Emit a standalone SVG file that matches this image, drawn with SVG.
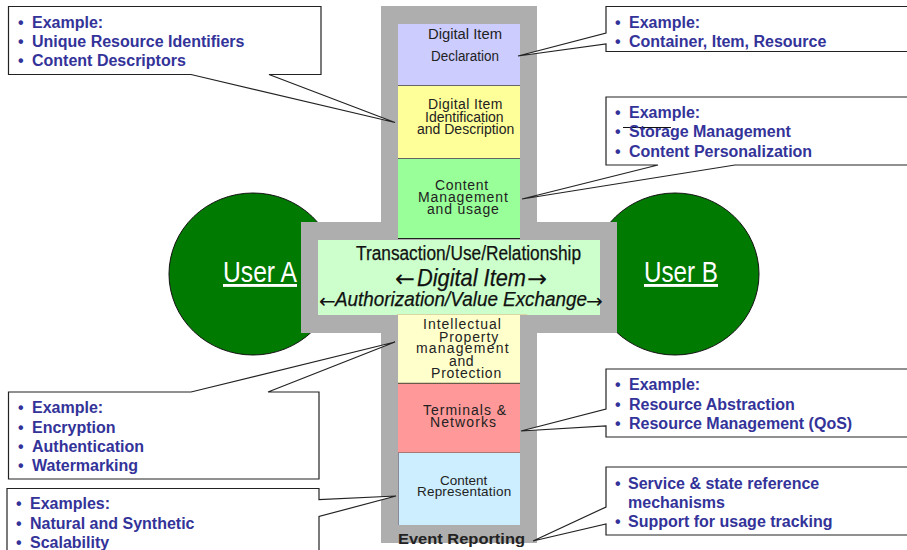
<svg xmlns="http://www.w3.org/2000/svg" width="907" height="550" viewBox="0 0 907 550">
<style>
text{font-family:"Liberation Sans",Arial,sans-serif}
.c{fill:#fff;stroke:#222;stroke-width:1.2}
.b{font-size:16px;font-weight:bold;fill:#333399}
.l{font-size:14px;fill:#222}
.u{font-size:29px;fill:#fff;text-decoration:underline}
.i{fill:#111;font-style:italic}
.a{font-family:"DejaVu Sans",sans-serif;font-size:24px;fill:#111}
.s{stroke:#666;stroke-width:1}
</style>
<rect width="907" height="550" fill="#fff"/>
<g id="user-a"><ellipse cx="253" cy="274" rx="84" ry="81" fill="#007a00" stroke="#111"/><text class="u" x="223" y="282" textLength="74" lengthAdjust="spacingAndGlyphs">User A</text></g>
<g id="user-b"><ellipse cx="675" cy="274" rx="84" ry="81" fill="#007a00" stroke="#111"/><text class="u" x="644" y="282" textLength="74" lengthAdjust="spacingAndGlyphs">User B</text></g>
<g id="cross"><path d="M381 6H537V222H617V333H537V543H381V333H301V222H381Z" fill="#aeaeae"/></g>
<g id="digital-item-declaration"><rect x="398" y="24" width="122" height="62" fill="#ccccff"/><path class="s" d="M398 85.500H520"/><text class="l" x="428" y="39" textLength="74" lengthAdjust="spacingAndGlyphs">Digital Item</text><text class="l" x="431" y="61" textLength="68" lengthAdjust="spacingAndGlyphs">Declaration</text></g>
<g id="identification"><rect x="398" y="86" width="122" height="73" fill="#ffff99"/><path class="s" d="M398 158.500H520"/><text class="l"><tspan x="428" y="109" letter-spacing=".4">Digital Item</tspan><tspan x="425" y="122">Identification</tspan><tspan x="417" y="134">and Description</tspan></text></g>
<g id="content-management"><rect x="398" y="159" width="122" height="79" fill="#99ff99"/><path d="M398 238.500H520" stroke="#222"/><text class="l"><tspan x="435" y="190" letter-spacing=".7">Content</tspan><tspan x="418" y="202" letter-spacing=".9">Management</tspan><tspan x="427" y="214" letter-spacing=".8">and usage</tspan></text></g>
<g id="digital-item"><rect x="318" y="240" width="282" height="75" fill="#ccffcc"/>
<text x="356" y="260" font-size="20" fill="#111" stroke="#111" stroke-width=".25" textLength="225" lengthAdjust="spacingAndGlyphs">Transaction/Use/Relationship</text>
<text class="a" x="395" y="287">←</text><text class="i" x="417" y="286" font-size="24" stroke="#111" stroke-width=".25" textLength="109" lengthAdjust="spacingAndGlyphs">Digital Item</text><text class="a" x="527" y="287">→</text>
<text class="a" x="319" y="308" style="font-size:20px">←</text><text class="i" x="335" y="306" font-size="20" stroke="#111" stroke-width=".25" textLength="252" lengthAdjust="spacingAndGlyphs">Authorization/Value Exchange</text><text class="a" x="586" y="308" style="font-size:20px">→</text></g>
<g id="ipmp"><rect x="398" y="315" width="122" height="69" fill="#ffffcc"/><path d="M397 314.500H527" stroke="#d8d8a0"/><path d="M398 383.500H520" stroke="#6a5a4a" stroke-width="1.500"/><text class="l"><tspan x="423" y="329" letter-spacing="1">Intellectual</tspan><tspan x="439" y="342" letter-spacing=".9">Property</tspan><tspan x="416" y="353" letter-spacing="1.200">management</tspan><tspan x="449" y="366" letter-spacing=".6">and</tspan><tspan x="431" y="378" letter-spacing=".8">Protection</tspan></text></g>
<g id="terminals"><rect x="398" y="384" width="122" height="69" fill="#ff9999"/><path d="M398 453H520" stroke="#555"/><text class="l"><tspan x="423" y="415" letter-spacing="1">Terminals &amp;</tspan><tspan x="430" y="427" letter-spacing="1.100">Networks</tspan></text></g>
<g id="content-representation"><rect x="398" y="453" width="122" height="72" fill="#cceeff"/><path d="M398.500 453V525" stroke="#889"/><text class="l" style="font-size:13.500px"><tspan x="440" y="485">Content</tspan><tspan x="417" y="496" letter-spacing=".2">Representation</tspan></text></g>
<text id="event-reporting" x="398" y="544" font-size="15" font-weight="bold" fill="#222" textLength="127" lengthAdjust="spacingAndGlyphs">Event Reporting</text>
<g id="connectors">
<path class="c" d="M8.500 6.500H321V74.500H269L395 122.500L191 74.500H8.500Z"/>
<path class="c" d="M606 6.500H915V51.500H606V44L518 56L606 33Z"/>
<path class="c" d="M606 97H915V165H735L522 199L658 165H606Z"/>
<path d="M623 127.500H671" stroke="#111" fill="none"/>
<path class="c" d="M606 369H915V437H606V426L521 431L606 409Z"/>
<path class="c" d="M606 467H915V535H606V524L533 541L606 507Z"/>
<path class="c" d="M8.500 392H191L395 342L268 392H319V479H8.500Z"/>
<path class="c" d="M7 488.500H319V499.500L396 496L319 516.500V560H7Z"/>
</g>
<g id="callout-identifiers" class="b"><text x="18" y="28">•</text><text x="32" y="28">Example:</text><text x="18" y="47">•</text><text x="32" y="47">Unique Resource Identifiers</text><text x="18" y="66">•</text><text x="32" y="66">Content Descriptors</text></g>
<g id="callout-container" class="b"><text x="615" y="28">•</text><text x="629" y="28">Example:</text><text x="615" y="47">•</text><text x="629" y="47">Container, Item, Resource</text></g>
<g id="callout-storage" class="b"><text x="615" y="118">•</text><text x="629" y="118">Example:</text><text x="615" y="137">•</text><text x="629" y="137">Storage Management</text><text x="615" y="157">•</text><text x="629" y="157">Content Personalization</text></g>
<g id="callout-resource" class="b"><text x="615" y="390">•</text><text x="629" y="390">Example:</text><text x="615" y="410">•</text><text x="629" y="410">Resource Abstraction</text><text x="615" y="429">•</text><text x="629" y="429">Resource Management (QoS)</text></g>
<g id="callout-service" class="b"><text x="615" y="489">•</text><text x="628" y="489">Service &amp; state reference</text><text x="628" y="508">mechanisms</text><text x="615" y="527">•</text><text x="628" y="527">Support for usage tracking</text></g>
<g id="callout-encryption" class="b"><text x="18" y="413">•</text><text x="32" y="413">Example:</text><text x="18" y="433">•</text><text x="32" y="433">Encryption</text><text x="18" y="452">•</text><text x="32" y="452">Authentication</text><text x="18" y="471">•</text><text x="32" y="471">Watermarking</text></g>
<g id="callout-examples" class="b"><text x="16" y="509">•</text><text x="30" y="509">Examples:</text><text x="16" y="529">•</text><text x="30" y="529">Natural and Synthetic</text><text x="16" y="548">•</text><text x="30" y="548">Scalability</text></g>
</svg>
